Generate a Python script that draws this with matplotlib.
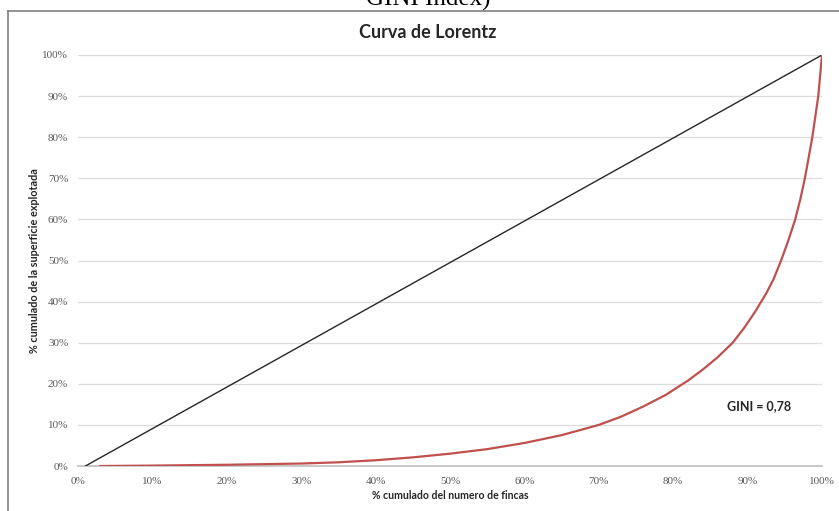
import matplotlib.pyplot as plt
from matplotlib.lines import Line2D
from matplotlib.ticker import PercentFormatter

# cumulative share of farms (%) and of farmed area (%)
farms_pct = [3, 10, 20, 30, 35, 40, 45, 50, 55, 60, 65, 70, 73, 76, 79, 82, 84,
             86, 88, 89.5, 91, 92.5, 93.5, 94.5, 95.5, 96.4, 97.1, 97.7, 98.2,
             98.7, 99.1, 99.5, 99.75, 100]
area_pct = [0, 0.1, 0.3, 0.6, 0.9, 1.4, 2.1, 3.0, 4.1, 5.6, 7.5, 10, 12, 14.5,
            17.3, 20.8, 23.5, 26.5, 30, 33.5, 37.5, 42, 45.5, 50, 55, 60, 65,
            70, 75, 80, 85, 90, 95, 100]

# line of perfect equality
equal_x = [1, 100]
equal_y = [0, 100]

ticks = [0, 10, 20, 30, 40, 50, 60, 70, 80, 90, 100]
gini_text = "GINI = 0,78"

fig = plt.figure(figsize=(8.39, 5.11), dpi=100)
ax = fig.add_axes([78 / 839, 1 - 466 / 511, (822 - 78) / 839, (466 - 55) / 511])

ax.plot(equal_x, equal_y, color="#262626", lw=1.0, zorder=3)
ax.plot(farms_pct, area_pct, color="#c0504d", lw=1.6, zorder=4)

ax.set_xlim(0, 100)
ax.set_ylim(0, 100)
ax.set_xticks(ticks)
ax.set_yticks(ticks)
ax.xaxis.set_major_formatter(PercentFormatter(decimals=0))
ax.yaxis.set_major_formatter(PercentFormatter(decimals=0))
ax.tick_params(axis="x", length=0, labelsize=8, labelcolor="#595959", pad=8)
ax.tick_params(axis="y", length=0, labelsize=8, labelcolor="#595959", pad=7)
for lab in ax.get_xticklabels() + ax.get_yticklabels():
    lab.set_family("Liberation Serif")
ax.grid(axis="y", color="#dcdcdc", lw=0.9)
ax.set_axisbelow(True)
for s in ["top", "right", "left"]:
    ax.spines[s].set_visible(False)
ax.spines["bottom"].set_color("#c8c8c8")
ax.spines["bottom"].set_linewidth(1.4)

ax.set_xlabel("% cumulado del numero de fincas", fontsize=7.6, fontweight="bold",
              family="Lato", color="#262626", labelpad=3)
ax.set_ylabel("% cumulado de la superficie explotada", fontsize=7.8, fontweight="bold",
              family="Lato", color="#262626", labelpad=2)

ax.text(0.915, 0.146, gini_text, transform=ax.transAxes, fontsize=9,
        fontweight="bold", family="Lato", color="#262626", ha="center", va="center")

fig.text(428 / 839, 1 - 32 / 511, "Curva de Lorentz", fontsize=13, fontweight="bold",
         family="Lato", color="#262626", ha="center", va="center")

# caption cut at the top of the screenshot
fig.text(428 / 839, 1 - 6 / 511, "GINI Index)", fontsize=18, family="Liberation Serif",
         color="black", ha="center", va="baseline")

# frame of the embedded chart
fig.add_artist(Line2D([8 / 839, 1], [1 - 11 / 511, 1 - 11 / 511],
                      transform=fig.transFigure, color="#808080", lw=1.2))
fig.add_artist(Line2D([8 / 839, 8 / 839], [0, 1 - 11 / 511],
                      transform=fig.transFigure, color="#808080", lw=1.2))

fig.savefig("out.png", dpi=100)
